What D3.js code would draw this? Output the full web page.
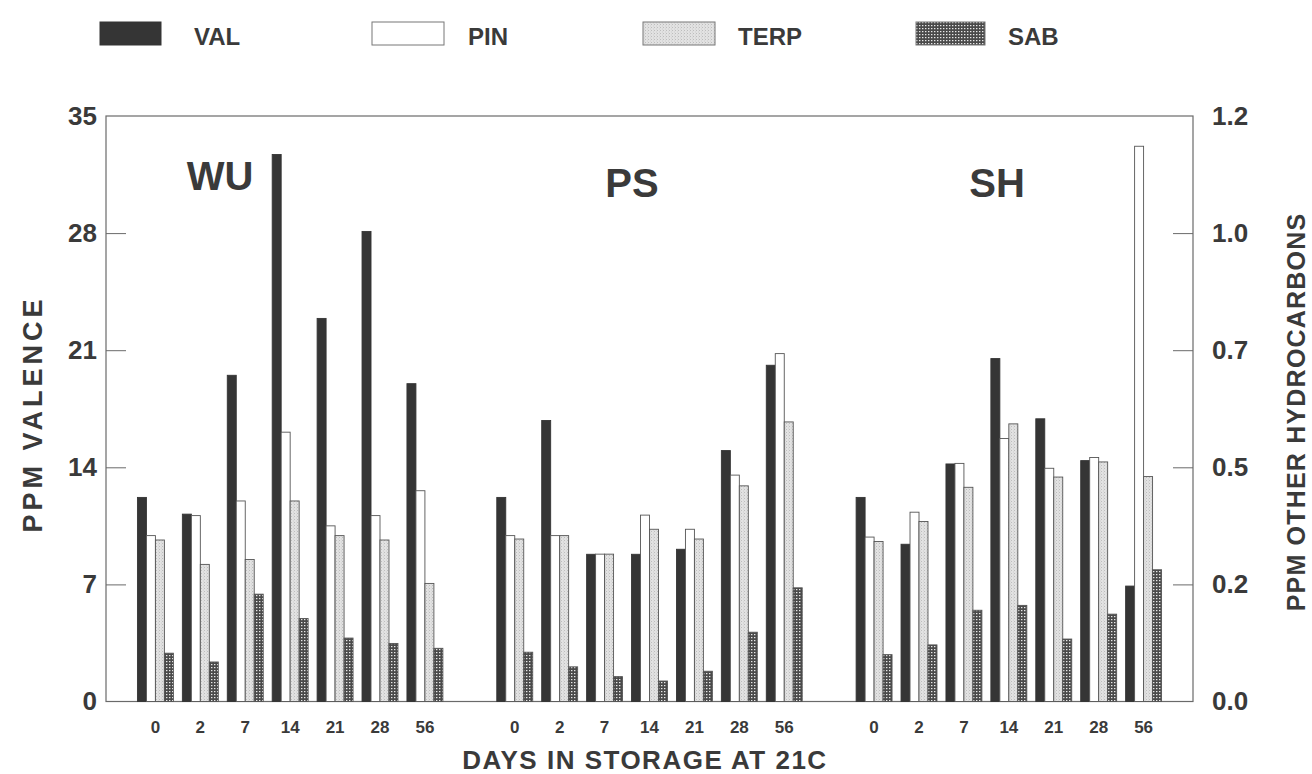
<!DOCTYPE html>
<html>
<head>
<meta charset="utf-8">
<script src="https://cdn.jsdelivr.net/npm/d3@7"></script>
<style>
  html, body { margin: 0; padding: 0; background: #fff; }
  svg { display: block; font-family: "Liberation Sans", Arial, sans-serif; }
</style>
</head>
<body>
<svg id="chart" width="1312" height="774"></svg>
<script>
// ---------------- data ----------------
const sections = ["WU", "PS", "SH"];
const days = ["0", "2", "7", "14", "21", "28", "56"];
const seriesNames = ["VAL", "PIN", "TERP", "SAB"];

// VAL on left axis (ppm valencene)
const valWU = [12.2, 11.2, 19.5, 32.7, 22.9, 28.1, 19.0];
const valPS = [12.2, 16.8, 8.8, 8.8, 9.1, 15.0, 20.1];
const valSH = [12.2, 9.4, 14.2, 20.5, 16.9, 14.4, 6.9];

// other hydrocarbons on right axis (ppm)
const pinWU = [0.340, 0.381, 0.411, 0.552, 0.360, 0.381, 0.432];
const pinPS = [0.340, 0.340, 0.302, 0.382, 0.353, 0.464, 0.713];
const pinSH = [0.337, 0.388, 0.488, 0.539, 0.478, 0.500, 1.138];

const terpWU = [0.331, 0.281, 0.291, 0.411, 0.340, 0.331, 0.242];
const terpPS = [0.333, 0.340, 0.302, 0.353, 0.333, 0.442, 0.573];
const terpSH = [0.328, 0.369, 0.439, 0.569, 0.460, 0.491, 0.461];

const sabWU = [0.099, 0.081, 0.220, 0.170, 0.130, 0.119, 0.109];
const sabPS = [0.101, 0.071, 0.051, 0.042, 0.062, 0.142, 0.233];
const sabSH = [0.096, 0.116, 0.187, 0.197, 0.128, 0.179, 0.270];

const leftTicks = [0, 7, 14, 21, 28, 35];
const rightTicks = [0, 0.24, 0.48, 0.72, 0.96, 1.2];
const rightTickLabels = ["0.0", "0.2", "0.5", "0.7", "1.0", "1.2"];

// ---------------- build table ----------------
const table = {
  WU: { VAL: valWU, PIN: pinWU, TERP: terpWU, SAB: sabWU },
  PS: { VAL: valPS, PIN: pinPS, TERP: terpPS, SAB: sabPS },
  SH: { VAL: valSH, PIN: pinSH, TERP: terpSH, SAB: sabSH }
};
const records = [];
sections.forEach(s => days.forEach((d, i) => seriesNames.forEach(n => {
  records.push({ section: s, day: d, series: n, value: table[s][n][i] });
})));

// ---------------- layout ----------------
const svg = d3.select("#chart");
const plotL = 106, plotR = 1193, plotT = 116, plotB = 701.5;
const ink = "#3a3a3a";
const font = "Liberation Sans, Arial, sans-serif";

const defs = svg.append("defs");
// TERP: light stipple
const pT = defs.append("pattern").attr("id", "terp").attr("patternUnits", "userSpaceOnUse")
  .attr("width", 3).attr("height", 3);
pT.append("rect").attr("width", 3).attr("height", 3).attr("fill", "#e2e2e2");
pT.append("rect").attr("x", 0).attr("y", 0).attr("width", 1).attr("height", 1).attr("fill", "#bdbdbd");
pT.append("rect").attr("x", 2).attr("y", 1.5).attr("width", 1).attr("height", 1).attr("fill", "#cfcfcf");
// SAB: dark grid with white dots
const pS = defs.append("pattern").attr("id", "sab").attr("patternUnits", "userSpaceOnUse")
  .attr("width", 3).attr("height", 3);
pS.append("rect").attr("width", 3).attr("height", 3).attr("fill", "#4a4a4a");
pS.append("rect").attr("x", 1).attr("y", 1).attr("width", 1.4).attr("height", 1.2).attr("fill", "#e8e8e8");

const fills = { VAL: "#353535", PIN: "#ffffff", TERP: "url(#terp)", SAB: "url(#sab)" };

// scales
const yL = d3.scaleLinear().domain([0, 35]).range([plotB, plotT]);
const yR = d3.scaleLinear().domain([0, 1.2]).range([plotB, plotT]);
const xSection = d3.scaleBand().domain(sections).range([plotL, plotR])
  .paddingInner(0.125).paddingOuter(0.075);
const xDay = d3.scaleBand().domain(days).range([0, xSection.bandwidth()])
  .paddingInner(0.2).paddingOuter(0.1);
const xSeries = d3.scaleBand().domain(seriesNames).range([0, xDay.bandwidth()]).padding(0);

// frame
svg.append("rect").attr("x", plotL).attr("y", plotT)
  .attr("width", plotR - plotL).attr("height", plotB - plotT)
  .attr("fill", "none").attr("stroke", "#6a6a6a").attr("stroke-width", 1.2);

// bars
svg.append("g").selectAll("rect").data(records).join("rect")
  .attr("x", d => xSection(d.section) + xDay(d.day) + xSeries(d.series))
  .attr("width", xSeries.bandwidth())
  .attr("y", d => (d.series === "VAL" ? yL : yR)(d.value))
  .attr("height", d => plotB - (d.series === "VAL" ? yL : yR)(d.value))
  .attr("fill", d => fills[d.series])
  .attr("stroke", d => d.series === "VAL" ? "#353535" : "#555")
  .attr("stroke-width", 0.9);

// left axis
const gL = svg.append("g").attr("transform", `translate(${plotL},0)`)
  .call(d3.axisLeft(yL).tickValues(leftTicks).tickSize(-20).tickPadding(9));
gL.select(".domain").remove();
gL.selectAll(".tick line").attr("stroke", "#6a6a6a");
gL.selectAll(".tick").filter(d => d === 0 || d === 35).select("line").remove();
gL.selectAll("text").attr("font-size", 26).attr("font-weight", "bold").attr("fill", ink)
  .attr("font-family", font);

// right axis
const gR = svg.append("g").attr("transform", `translate(${plotR},0)`)
  .call(d3.axisRight(yR).tickValues(rightTicks).tickSize(-20).tickPadding(19)
    .tickFormat((d, i) => rightTickLabels[i]));
gR.select(".domain").remove();
gR.selectAll(".tick line").attr("stroke", "#6a6a6a");
gR.selectAll(".tick").filter(d => d === 0 || d === 1.2).select("line").remove();
gR.selectAll("text").attr("font-size", 26).attr("font-weight", "bold").attr("fill", ink)
  .attr("font-family", font);

// bottom day axes
sections.forEach(s => {
  const g = svg.append("g").attr("transform", `translate(${xSection(s)},${plotB})`)
    .call(d3.axisBottom(xDay).tickSize(0).tickPadding(19));
  g.select(".domain").remove();
  g.selectAll("text").attr("font-size", 17).attr("font-weight", "bold").attr("fill", ink)
    .attr("font-family", font);
});

// section labels
const secLabelX = { WU: 220, PS: 632, SH: 997 };
const secLabelY = { WU: 190, PS: 197, SH: 197 };
svg.append("g").selectAll("text").data(sections).join("text")
  .attr("x", d => secLabelX[d]).attr("y", d => secLabelY[d])
  .attr("text-anchor", "middle").attr("font-size", 40).attr("font-weight", "bold")
  .attr("fill", ink).text(d => d);

// axis titles
svg.append("text").attr("transform", "translate(42,414) rotate(-90)")
  .attr("text-anchor", "middle").attr("font-size", 27).attr("font-weight", "bold")
  .attr("fill", ink).attr("letter-spacing", 4).text("PPM VALENCE");
svg.append("text").attr("transform", "translate(1305,412) rotate(-90)")
  .attr("text-anchor", "middle").attr("font-size", 25).attr("font-weight", "bold")
  .attr("fill", ink).attr("letter-spacing", 1.2).text("PPM OTHER HYDROCARBONS");
svg.append("text").attr("x", 645).attr("y", 769)
  .attr("text-anchor", "middle").attr("font-size", 26).attr("font-weight", "bold")
  .attr("fill", ink).attr("letter-spacing", 1.5).text("DAYS IN STORAGE AT 21C");

// legend
const legendX = { VAL: 100, PIN: 372, TERP: 643, SAB: 916 };
const legendW = { VAL: 61, PIN: 72, TERP: 72, SAB: 69 };
const legendTextX = { VAL: 194, PIN: 468, TERP: 738, SAB: 1008 };
const lg = svg.append("g").selectAll("g").data(seriesNames).join("g");
lg.append("rect").attr("x", d => legendX[d]).attr("y", 22)
  .attr("width", d => legendW[d]).attr("height", 23)
  .attr("fill", d => fills[d]).attr("stroke", d => d === "VAL" ? "#353535" : "#777").attr("stroke-width", 1);
lg.append("text").attr("x", d => legendTextX[d]).attr("y", 45)
  .attr("font-size", 24).attr("font-weight", "bold").attr("fill", ink)
  .text(d => d);
</script>
</body>
</html>
